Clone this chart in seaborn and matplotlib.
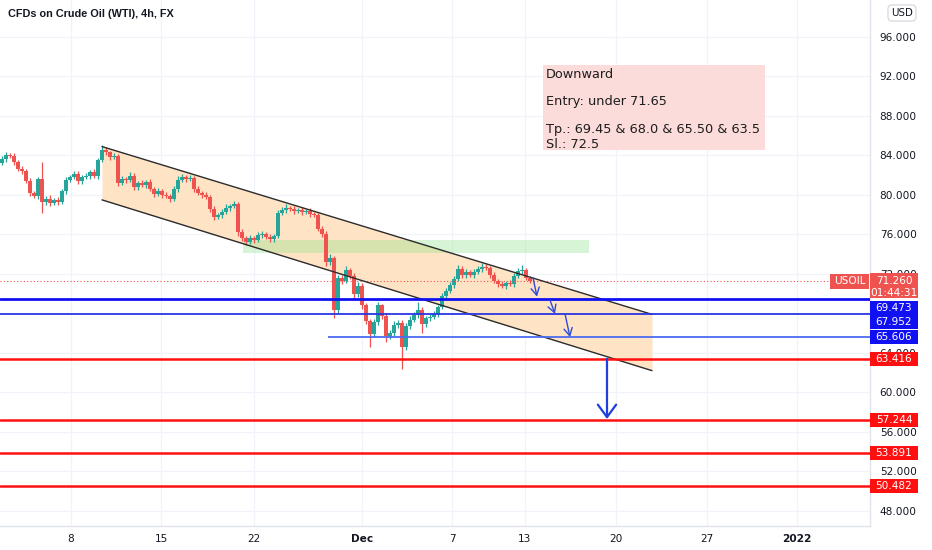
import numpy as np
import matplotlib
matplotlib.use("Agg")
import matplotlib.pyplot as plt
import seaborn as sns
from matplotlib.patches import Rectangle

# --- data (4h candles, bar index on x) ---
first_open = 83.2
closes = [
    83.6, 84.0, 83.9, 83.3, 82.6, 82.4, 81.4, 80.2, 79.9, 81.6,
    79.3, 79.6, 79.2, 79.5, 79.3, 80.4, 81.5, 81.8, 82.1, 81.4,
    81.8, 81.9, 82.3, 81.9, 83.5, 84.6, 84.3, 83.8, 83.9, 81.2,
    81.6, 81.5, 81.9, 80.8, 81.2, 81.0, 81.3, 80.6, 80.1, 80.4,
    80.0, 79.9, 79.6, 80.6, 81.5, 81.8, 81.6, 81.7, 80.6, 80.2,
    80.0, 79.8, 78.6, 77.8, 78.0, 78.3, 78.7, 78.9, 79.1, 76.2,
    75.6, 75.2, 75.6, 75.4, 75.9, 76.0, 75.7, 75.5, 75.8, 78.2,
    78.5, 78.7, 78.6, 78.4, 78.5, 78.3, 78.4, 78.1, 78.0, 76.6,
    76.0, 73.2, 73.6, 68.3, 71.6, 71.3, 72.4, 71.8, 70.0, 70.8,
    68.8, 67.2, 65.9, 67.1, 68.8, 67.7, 65.7, 66.0, 66.8, 67.0,
    64.6, 66.7, 67.3, 67.8, 68.3, 66.9, 67.5, 67.6, 67.9, 68.6,
    69.8, 70.3, 70.9, 71.5, 72.5, 71.9, 72.2, 71.9, 72.2, 72.5,
    72.7, 72.6, 71.9, 71.3, 71.0, 70.8, 71.1, 71.0, 71.8, 72.3,
    72.4, 71.6, 71.26,
]
wick_up = [
    0.3, 0.3, 0.2, 0.3, 0.2, 0.3, 0.2, 0.3, 0.2, 0.2,
    1.7, 0.3, 0.4, 0.2, 0.3, 0.2, 0.3, 0.2, 0.3, 0.3,
    0.2, 0.3, 0.2, 0.3, 0.2, 0.5, 0.3, 0.2, 0.3, 0.2,
    0.3, 0.2, 0.4, 0.3, 0.2, 0.3, 0.2, 0.3, 0.2, 0.3,
    0.2, 0.3, 0.2, 0.3, 0.4, 0.3, 0.2, 0.3, 0.2, 0.3,
    0.2, 0.3, 0.2, 0.3, 0.2, 0.3, 0.4, 0.2, 0.3, 0.2,
    0.3, 0.2, 0.3, 0.2, 0.3, 0.3, 0.2, 0.3, 0.2, 0.3,
    0.3, 0.4, 0.2, 0.3, 0.2, 0.3, 0.2, 0.3, 0.2, 0.2,
    0.3, 0.3, 0.4, 0.2, 0.3, 0.3, 0.4, 0.2, 0.3, 0.4,
    0.3, 0.3, 0.2, 0.3, 0.4, 0.2, 0.3, 0.3, 0.4, 0.3,
    0.3, 0.3, 0.4, 0.3, 0.9, 0.3, 0.2, 0.3, 0.3, 0.2,
    0.3, 0.3, 0.3, 0.3, 0.4, 0.3, 0.3, 0.2, 0.3, 0.3,
    0.4, 0.3, 0.2, 0.3, 0.2, 0.3, 0.2, 0.3, 0.3, 0.3,
    0.5, 0.2, 0.2,
]
wick_dn = [
    0.2, 0.3, 0.2, 0.3, 0.2, 0.3, 0.2, 0.3, 0.2, 0.3,
    1.1, 0.3, 0.3, 0.2, 0.3, 0.2, 0.3, 0.2, 0.2, 0.3,
    0.3, 0.2, 0.3, 0.2, 0.3, 0.2, 0.3, 0.3, 0.2, 0.3,
    0.2, 0.3, 0.2, 0.3, 0.3, 0.2, 0.3, 0.2, 0.3, 0.2,
    0.3, 0.2, 0.3, 0.2, 0.3, 0.2, 0.3, 0.2, 0.3, 0.2,
    0.3, 0.2, 0.3, 0.3, 0.2, 0.3, 0.2, 0.3, 0.2, 0.4,
    0.3, 0.3, 0.2, 0.3, 0.2, 0.3, 0.2, 0.3, 0.3, 0.2,
    0.2, 0.3, 0.2, 0.3, 0.2, 0.3, 0.2, 0.3, 0.2, 0.3,
    0.3, 0.4, 0.3, 0.8, 0.3, 0.3, 0.2, 0.3, 0.4, 0.3,
    0.4, 0.3, 1.3, 0.3, 0.3, 0.3, 0.6, 0.3, 0.3, 0.3,
    2.2, 0.3, 0.3, 0.2, 0.3, 0.9, 0.3, 0.3, 0.2, 0.3,
    0.2, 0.3, 0.2, 0.3, 0.2, 0.3, 0.3, 0.2, 0.3, 0.2,
    0.3, 0.2, 0.3, 0.2, 0.3, 0.2, 0.3, 0.2, 0.3, 0.2,
    0.3, 0.2, 0.2,
]
last_price = 71.26
countdown = "01:44:31"

x_tick_pos = [17.25, 39.75, 63, 90, 112.5, 130.75, 153.5, 176.25, 198.75]
x_tick_labels = ["8", "15", "22", "Dec", "7", "13", "20", "27", "2022"]
y_ticks = [48, 52, 56, 60, 64, 68, 72, 76, 80, 84, 88, 92, 96]
hidden_y_ticks = [68]  # sits fully under the level boxes

# drawings
channel_x = [25, 162.5]
channel_top = [84.9, 67.9]
channel_bottom = [79.5, 62.2]
zone_x = [60.25, 146.75]
zone_y = [74.12, 75.43]
blue_levels = [69.473, 67.952, 65.606]
blue_starts = [None, None, 81.5]
red_levels = [63.416, 57.244, 53.891, 50.482]
small_arrows = [((132.75, 71.6), (133.75, 69.7)),
                ((137.0, 69.35), (138.25, 67.95)),
                ((140.75, 67.95), (142.0, 65.6))]
big_arrow = ((151.25, 63.4), (151.25, 57.3))
note_x = [135.25, 190.75]
note_y = [84.55, 93.16]
note_lines = ["Downward", "Entry: under 71.65", "Tp.: 69.45 & 68.0 & 65.50 & 63.5", "Sl.: 72.5"]

UP, DOWN = "#26a69a", "#ef5350"

sns.set_theme(style="white")
plt.rcParams['font.family'] = ['DejaVu Sans']

W, H = 932, 550
fig = plt.figure(figsize=(W / 100, H / 100), dpi=100)
ax_h = 526 / H
ax_w = 870 / W
ax = fig.add_axes([0, 1 - ax_h, ax_w, ax_h])
ylo, yhi = 46.46, 99.75
ax.set_xlim(-0.5, 217)
ax.set_ylim(ylo, yhi)
ppx = (yhi - ylo) / 526  # price per pixel

# grid
ax.set_xticks(x_tick_pos)
ax.set_xticklabels(x_tick_labels)
ax.set_yticks(y_ticks)
ax.set_yticklabels(["" if v in hidden_y_ticks else f"{v:.3f}" for v in y_ticks])
ax.grid(True, color="#f0f3fa", lw=0.9)
ax.yaxis.tick_right()
ax.tick_params(axis="y", length=0, pad=7, labelsize=7.6, labelcolor="#131722")
ax.tick_params(axis="x", length=0, pad=6, labelsize=7.6, labelcolor="#131722")
for lbl in ax.get_xticklabels():
    if lbl.get_text() in ("Dec", "2022"):
        lbl.set_fontweight("bold")
for side in ("top", "left"):
    ax.spines[side].set_visible(False)
for side in ("right", "bottom"):
    ax.spines[side].set_color("#e0e3eb")
    ax.spines[side].set_linewidth(1)

# channel + zone
ax.fill_between(channel_x, channel_bottom, channel_top, color="#fee3c4", lw=0, zorder=1)
ax.add_patch(Rectangle((zone_x[0], zone_y[0]), zone_x[1] - zone_x[0], zone_y[1] - zone_y[0],
                       fc="#8fe38a", alpha=0.35, lw=0, zorder=1.2))

# candles
closes = np.array(closes)
opens = np.concatenate([[first_open], closes[:-1]])
highs = np.maximum(opens, closes) + np.array(wick_up)
lows = np.minimum(opens, closes) - np.array(wick_dn)
idx = np.arange(len(closes))
cols = [UP if c >= o else DOWN for o, c in zip(opens, closes)]
body_lo = np.minimum(opens, closes)
body_h = np.maximum(np.abs(closes - opens), 0.08)
ax.vlines(idx, lows, highs, colors=cols, lw=0.9, zorder=2)
ax.bar(idx, body_h, bottom=body_lo, width=0.8, color=cols, lw=0, zorder=2.1)

# channel borders
ax.plot(channel_x, channel_top, color="#2b2b2b", lw=1.0, zorder=3)
ax.plot(channel_x, channel_bottom, color="#2b2b2b", lw=1.0, zorder=3)

# levels
ax.axhline(last_price, color=DOWN, ls=(0, (1, 2)), lw=0.8, zorder=2.5)
blue_styles = [("#1010f2", 2.0), ("#2a36e6", 1.3), ("#4b6bf0", 1.3)]
for lvl, start, (c, lw) in zip(blue_levels, blue_starts, blue_styles):
    if start is None:
        ax.axhline(lvl, color=c, lw=lw, zorder=3)
    else:
        ax.hlines(lvl, start, 217, color=c, lw=lw, zorder=3)
for lvl in red_levels:
    ax.axhline(lvl, color="#ff1010", lw=1.8, zorder=3)

# arrows
for start, end in small_arrows:
    ax.annotate("", xy=end, xytext=start,
                arrowprops=dict(arrowstyle="->,head_length=0.45,head_width=0.25",
                                color="#2e4bdc", lw=1.0, shrinkA=0, shrinkB=0), zorder=4)
ax.annotate("", xy=big_arrow[1], xytext=big_arrow[0],
            arrowprops=dict(arrowstyle="->,head_length=0.75,head_width=0.55",
                            color="#1f3fe0", lw=1.6, shrinkA=0, shrinkB=0), zorder=4)

# note box
ax.add_patch(Rectangle((note_x[0], note_y[0]), note_x[1] - note_x[0], note_y[1] - note_y[0],
                       fc="#fbdcdb", lw=0, zorder=3))
note_px = [75, 102, 129, 144]
for txt, py in zip(note_lines, note_px):
    ax.text(note_x[0] + 0.8, yhi - py * ppx, txt, fontsize=9.3, color="#1d1d1d",
            va="center", ha="left", zorder=4)

# price-axis labels
ytr = ax.get_yaxis_transform()
box_w = 48 / 870


def axis_box(center, text, color, height=14):
    ax.add_patch(Rectangle((1.0, center - height / 2 * ppx), box_w, height * ppx,
                           transform=ytr, fc=color, lw=0, clip_on=False, zorder=5))
    ax.text(1.0 + box_w / 2, center, text, transform=ytr, ha="center", va="center",
            color="white", fontsize=7.6, clip_on=False, zorder=6)


label_shift = [8.7, 7.7, -0.5]
for lvl, sh in zip(blue_levels, label_shift):
    axis_box(lvl - sh * ppx, f"{lvl:.3f}", "#1010f2")
for lvl in red_levels:
    axis_box(lvl, f"{lvl:.3f}", "#ff1010")

# current price box
top = last_price + 8 * ppx
ax.add_patch(Rectangle((1.0, top - 25 * ppx), box_w, 25 * ppx, transform=ytr,
                       fc=DOWN, lw=0, clip_on=False, zorder=5))
ax.text(1.0 + box_w / 2, last_price, f"{last_price:.3f}", transform=ytr, ha="center",
        va="center", color="white", fontsize=7.6, clip_on=False, zorder=6)
ax.text(1.0 + box_w / 2, last_price - 11.5 * ppx, countdown, transform=ytr, ha="center",
        va="center", color="white", fontsize=7.6, clip_on=False, zorder=6)
ax.add_patch(Rectangle((1.0 - 40 / 870, last_price - 7.5 * ppx), 39 / 870, 15 * ppx,
                       transform=ytr, fc=DOWN, lw=0, zorder=5))
ax.text(1.0 - 20.5 / 870, last_price, "USOIL", transform=ytr, ha="center", va="center",
        color="white", fontsize=7.6, zorder=6)

# header texts
fig.text(8 / W, 1 - 14 / H, "CFDs on Crude Oil (WTI), 4h, FX", fontsize=7.8,
         fontweight="bold", family=["Liberation Sans", "DejaVu Sans"], color="#131722",
         va="center", ha="left")
fig.text(902 / W, 1 - 13 / H, "USD", fontsize=7.4, color="#131722", va="center", ha="center",
         bbox=dict(boxstyle="round,pad=0.3,rounding_size=0.4", fc="white", ec="#d1d4dc", lw=0.8))

fig.savefig("out.png", dpi=100)
